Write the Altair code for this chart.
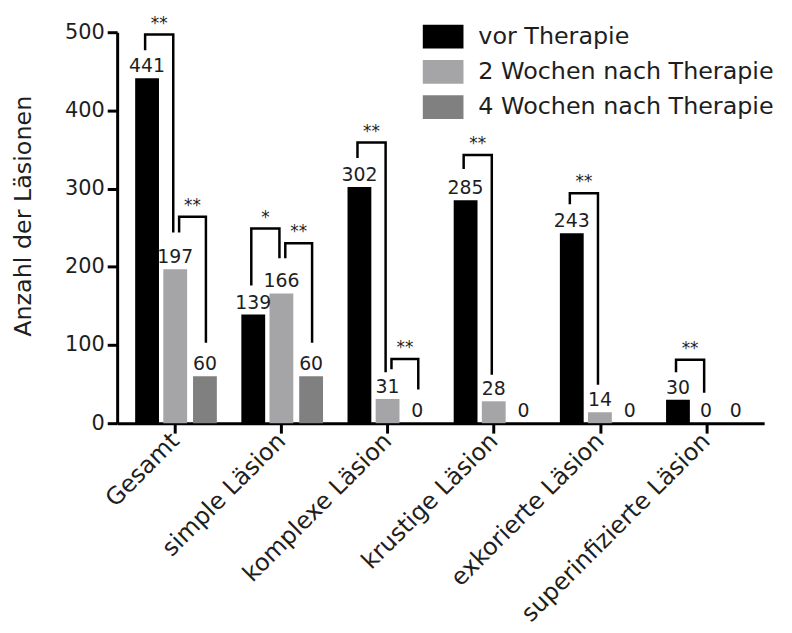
import json
import altair as alt
import pandas as pd

# ---- data ----
categories = ["Gesamt", "simple Läsion", "komplexe Läsion", "krustige Läsion",
              "exkorierte Läsion", "superinfizierte Läsion"]
series = ["vor Therapie", "2 Wochen nach Therapie", "4 Wochen nach Therapie"]
vor_therapie = [441, 139, 302, 285, 243, 30]
wochen_2 = [197, 166, 31, 28, 14, 0]
wochen_4 = [60, 60, 0, 0, 0, 0]
y_ticks = [0, 100, 200, 300, 400, 500]

# significance brackets: category index, series compared, heights, label
bracket_category = [0, 0, 1, 1, 2, 2, 3, 4, 5]
bracket_from = [0, 1, 0, 1, 0, 1, 0, 0, 0]
bracket_to = [1, 2, 1, 2, 1, 2, 1, 1, 1]
bracket_top = [497, 264, 249, 230, 359, 82, 343, 294, 81]
bracket_left_end = [477, 244, 176, 211, 339, 69, 325, 280, 65]
bracket_right_end = [244, 103, 211, 103, 65, 43, 62, 49, 39]
bracket_label = ["**", "**", "*", "**", "**", "**", "**", "**", "**"]

# ---- styling / layout ----
colors = ["#000000", "#a5a5a8", "#808080"]
FONT = "DejaVu Sans"
TEXT = "#1e1e1e"
bar_offset = [-0.265, 0.0, 0.28]      # position of each series inside a group (category units)
px = 1 / 108.67                       # one pixel in category units
left_nudge = [-2 * px, 4 * px, 0]
right_nudge = [0, -2 * px, 1 * px]

values_by_series = [vor_therapie, wochen_2, wochen_4]
rows = []
for s, vals in enumerate(values_by_series):
    for c, v in enumerate(vals):
        rows.append({"category": categories[c], "series": series[s], "value": v,
                     "xpos": c + bar_offset[s]})
bars_df = pd.DataFrame(rows)

line_rows, star_rows = [], []
for b in range(len(bracket_category)):
    c = bracket_category[b]
    xl = c + bar_offset[bracket_from[b]] + left_nudge[bracket_from[b]]
    xr = c + bar_offset[bracket_to[b]] + right_nudge[bracket_to[b]]
    pts = [(xl, bracket_left_end[b]), (xl, bracket_top[b]),
           (xr, bracket_top[b]), (xr, bracket_right_end[b])]
    for o, (xx, yy) in enumerate(pts):
        line_rows.append({"bid": b, "ord": o, "x": xx, "y": yy})
    star_rows.append({"x": (xl + xr) / 2, "y": bracket_top[b], "label": bracket_label[b]})
lines_df = pd.DataFrame(line_rows)
stars_df = pd.DataFrame(star_rows)

xscale = alt.Scale(domain=[-0.5, len(categories) - 0.5], nice=False, zero=False)
yscale = alt.Scale(domain=[0, 500], nice=False)

label_expr = json.dumps(categories, ensure_ascii=False) + "[datum.value]"
x_axis = alt.Axis(values=list(range(len(categories))), labelExpr=label_expr, grid=False,
                  domainWidth=3, domainColor="black", tickWidth=3, tickColor="black",
                  tickSize=10, labelAngle=315, labelAlign="right", labelBaseline="middle",
                  labelFont=FONT, labelFontSize=24, labelColor=TEXT, labelPadding=4,
                  labelOverlap=False, labelLimit=0, title=None)
y_axis = alt.Axis(values=y_ticks, grid=False, domainWidth=3, domainColor="black",
                  tickWidth=3, tickColor="black", tickSize=10, labelFont=FONT,
                  labelFontSize=21, labelColor=TEXT, labelPadding=3,
                  title="Anzahl der Läsionen", titleFont=FONT, titleFontSize=24,
                  titleFontWeight="normal", titleColor=TEXT, titleAngle=270,
                  titleBaseline="alphabetic", titleAlign="center", titleX=-87, titleY=185)

legend = alt.Legend(title=None, orient="none", legendX=308, legendY=-16,
                    symbolType="M-1,-0.585H1V0.585H-1Z", symbolSize=1681,
                    symbolStrokeWidth=0, symbolOpacity=1, labelFont=FONT,
                    labelFontSize=24, labelColor=TEXT, rowPadding=2.5, labelOffset=15,
                    labelLimit=0, padding=0)

bars = alt.Chart(bars_df).mark_bar(size=24, orient="vertical").encode(
    x=alt.X("xpos:Q", scale=xscale, axis=x_axis),
    y=alt.Y("value:Q", scale=yscale, axis=y_axis),
    y2=alt.datum(0),
    color=alt.Color("series:N", scale=alt.Scale(domain=series, range=colors), legend=legend),
)

labels = alt.Chart(bars_df).mark_text(font=FONT, fontSize=19, color=TEXT, dy=-6,
                                      baseline="alphabetic").encode(
    x=alt.X("xpos:Q", scale=xscale),
    y=alt.Y("value:Q", scale=yscale),
    text="value:Q",
)

brackets = alt.Chart(lines_df).mark_line(color="black", strokeWidth=2.5,
                                         strokeJoin="miter", strokeCap="butt").encode(
    x=alt.X("x:Q", scale=xscale),
    y=alt.Y("y:Q", scale=yscale),
    detail="bid:N",
    order="ord:Q",
)

stars = alt.Chart(stars_df).mark_text(font=FONT, fontSize=17, color=TEXT, dy=-6,
                                      baseline="alphabetic").encode(
    x=alt.X("x:Q", scale=xscale),
    y=alt.Y("y:Q", scale=yscale),
    text="label:N",
)

chart = alt.layer(bars, labels, brackets, stars).properties(
    width=652, height=394,
    padding={"left": 110, "top": 22, "right": 20, "bottom": 205},
    autosize=alt.AutoSizeParams(type="none"),
).configure_view(stroke=None)

chart.save("out.html", embed_options={"renderer": "svg", "actions": False})
